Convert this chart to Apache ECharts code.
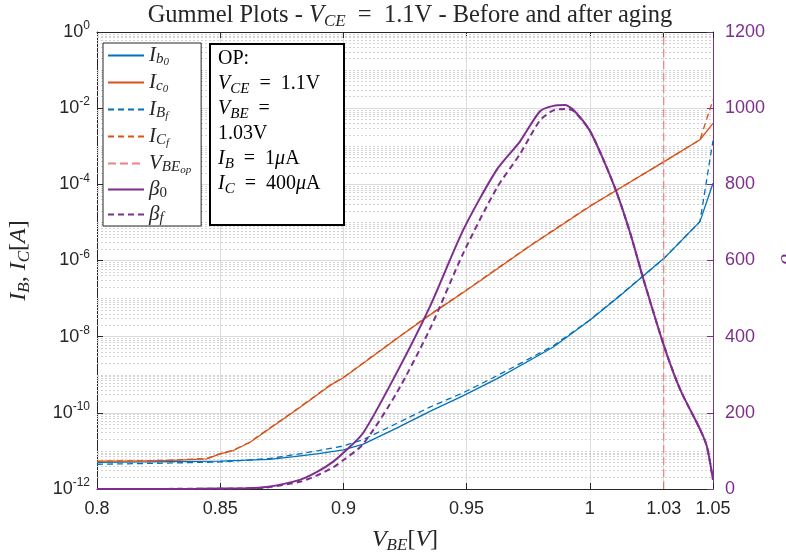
<!DOCTYPE html>
<html><head><meta charset="utf-8">
<script src="https://cdn.jsdelivr.net/npm/echarts@6/dist/echarts.min.js"></script>
<style>html,body{margin:0;padding:0;background:#fff}#c{width:786px;height:553px}</style>
</head><body><div id="c"></div>
<script>
// ---- data ----
const xTickValues = [0.8, 0.85, 0.9, 0.95, 1, 1.03, 1.05];
const leftTickExps = [-12, -10, -8, -6, -4, -2, 0];   // decades labelled 10^n
const rightTicks = [0, 200, 400, 600, 800, 1000, 1200];

// collector current: V_BE [V] and log10(I_C / A)
const vIc    = [0.8, 0.81, 0.82, 0.83, 0.8445, 0.85, 0.8553, 0.862, 0.8688, 0.8823, 0.8946, 0.9, 0.923, 0.934, 0.95, 0.9757, 1.0, 1.011, 1.03, 1.0447, 1.05];
const ic0Exp = [-11.27, -11.27, -11.26, -11.25, -11.21, -11.08, -10.99, -10.78, -10.47, -9.86, -9.28, -9.08, -7.99, -7.48, -6.78, -5.62, -4.58, -4.15, -3.41, -2.83, -2.40];
const icfExp = [-11.28, -11.26, -11.26, -11.24, -11.20, -11.07, -10.98, -10.77, -10.46, -9.85, -9.27, -9.07, -7.98, -7.47, -6.77, -5.61, -4.57, -4.15, -3.41, -2.83, -1.78];

// base current: V_BE [V] and log10(I_B / A)
const vIb    = [0.8, 0.82, 0.85, 0.87, 0.88, 0.89, 0.9, 0.9081, 0.9216, 0.9351, 0.9487, 0.9622, 0.9757, 0.9852, 1.0, 1.0125, 1.03, 1.0447, 1.05];
const ib0Exp = [-11.30, -11.29, -11.27, -11.22, -11.15, -11.07, -10.97, -10.82, -10.40, -9.96, -9.55, -9.11, -8.62, -8.27, -7.57, -6.91, -5.95, -4.98, -3.97];
const ibfExp = [-11.35, -11.33, -11.29, -11.20, -11.10, -10.99, -10.87, -10.70, -10.28, -9.85, -9.47, -9.03, -8.57, -8.24, -7.56, -6.90, -5.95, -4.98, -2.85];

// current gain beta
const vBeta = [0.8, 0.84, 0.86, 0.8688, 0.8823, 0.8891, 0.8959, 0.9, 0.908, 0.9216, 0.9351, 0.9487, 0.9622, 0.9717, 0.9798, 0.9852, 0.99, 0.9933, 0.9998, 1.0055, 1.011, 1.0164, 1.0218, 1.0302, 1.0367, 1.0448, 1.0475, 1.05];
const beta0 = [0, 0.5, 2, 5, 24, 44, 72, 95, 147, 305, 479, 681, 838, 913, 992, 1006, 1008, 996, 943, 865, 777, 672, 550, 374, 261, 156, 112, 24];
const betaf = [0, 0.5, 1.5, 4, 19, 35, 57, 76, 118, 252, 420, 620, 790, 880, 968, 994, 998, 993, 943, 865, 777, 672, 550, 374, 261, 156, 112, 24];

// operating point
const vbeOp = 1.03;
const EQ = '\u2002=\u2002';
const opText = [
  '{n|OP:}',
  '{i|V}{s|CE}{n|' + EQ + '1.1V}',
  '{i|V}{s|BE}{n|' + EQ + '}',
  '{n|1.03V}',
  '{i|I}{s|B}{n|' + EQ + '1}{i|μ}{n|A}',
  '{i|I}{s|C}{n|' + EQ + '400}{i|μ}{n|A}'
];

// ---- chart ----
const C_BLUE = '#0072BD', C_ORANGE = '#D95319', C_PURPLE = '#7E2F8E', C_RED = '#F08080', C_AX = '#262626';
const SERIF = 'Liberation Serif', SANS = 'Liberation Sans';
const pair = (xs, ys) => xs.map((x, i) => [x, ys[i]]);

// minor (dotted) grid positions of the log axis, in decades
const minorExps = [];
for (let n = -12; n < 0; n++) {
  for (let k = 1; k <= 9; k++) {
    if (k === 1 && n % 2 === 0) continue;
    minorExps.push(n + Math.log10(k));
  }
}

const serifRich = (size, color) => ({
  n: {fontFamily: SERIF, fontSize: size, color: color, lineHeight: size + 4, fontWeight: 'normal'},
  i: {fontFamily: SERIF, fontSize: size, fontStyle: 'italic', color: color, lineHeight: size + 4, fontWeight: 'normal'},
  s: {fontFamily: SERIF, fontSize: Math.round(size * 0.7), fontStyle: 'italic', color: color, fontWeight: 'normal',
      lineHeight: Math.round(size * 0.7), padding: [Math.round(size * 0.5), 0, 0, 0]}
});

const legendLabels = {
  Ib0: '{i|I}{s|b}{t|0}',
  Ic0: '{i|I}{s|c}{t|0}',
  IBf: '{i|I}{s|B}{t|f}',
  ICf: '{i|I}{s|C}{t|f}',
  VBEop: '{i|V}{s|BE}{t|op}',
  beta0: '{i|β}{u|0}',
  betaf: '{i|β}{s|f}'
};

const chart = echarts.init(document.getElementById('c'), null, {renderer: 'canvas'});
chart.setOption({
  animation: false,
  backgroundColor: '#fff',
  title: {
    text: '{n|Gummel Plots - }{i|V}{s|CE}{n|' + EQ + '1.1V - Before and after aging}',
    left: 405, top: -4, textAlign: 'center',
    textStyle: {fontWeight: 'normal', rich: serifRich(24.5, C_AX)}
  },
  grid: {left: 97, right: 73, top: 32, bottom: 64, containLabel: false, outerBoundsMode: 'none'},
  legend: {
    orient: 'vertical', left: 103, top: 43, z: 10,
    data: ['Ib0', 'Ic0', 'IBf', 'ICf', 'VBEop', 'beta0', 'betaf'],
    backgroundColor: '#fff', borderColor: C_AX, borderWidth: 1,
    padding: [0, 10, 0, 4], itemGap: 2, itemWidth: 36, itemHeight: 20,
    selectedMode: false,
    itemStyle: {opacity: 0},
    formatter: name => legendLabels[name],
    textStyle: {
      rich: {
        i: {fontFamily: SERIF, fontSize: 21, fontStyle: 'italic', color: C_AX, lineHeight: 20},
        s: {fontFamily: SERIF, fontSize: 15, fontStyle: 'italic', color: C_AX, lineHeight: 12, padding: [8, 0, 0, 0]},
        t: {fontFamily: SERIF, fontSize: 11, fontStyle: 'italic', color: C_AX, lineHeight: 6, padding: [14, 0, 0, 0]},
        u: {fontFamily: SERIF, fontSize: 15, color: C_AX, lineHeight: 12, padding: [8, 0, 0, 0]}
      }
    }
  },
  xAxis: [{
    type: 'value', min: 0.8, max: 1.05, interval: 0.05,
    name: '{i|V}{s|BE}{n|[}{i|V}{n|]}', nameLocation: 'middle', nameGap: 37,
    nameTextStyle: {rich: serifRich(24, C_AX)},
    axisLine: {show: true, onZero: false, lineStyle: {color: C_AX, width: 1}},
    axisTick: {show: true, inside: true, length: 6, customValues: xTickValues, lineStyle: {color: C_AX}},
    axisLabel: {customValues: xTickValues, fontFamily: SANS, fontSize: 18, color: C_AX, margin: 11,
      formatter: v => String(+v.toFixed(2))},
    splitLine: {show: true, lineStyle: {color: '#dcdcdc', width: 1}}
  }, {
    type: 'value', min: 0.8, max: 1.05, interval: 0.05, position: 'top',
    axisLine: {show: true, onZero: false, lineStyle: {color: C_AX, width: 1}},
    axisTick: {show: true, inside: true, length: 6, customValues: xTickValues, lineStyle: {color: C_AX}},
    axisLabel: {show: false}, splitLine: {show: false}
  }],
  yAxis: [{
    type: 'value', min: -12, max: 0, interval: 2,
    name: '{i|I}{s|B}{n|, }{i|I}{s|C}{n|[}{i|A}{n|]}', nameLocation: 'middle', nameGap: 64, nameRotate: 90,
    nameTextStyle: {rich: serifRich(24, C_AX)},
    axisLine: {show: true, onZero: false, lineStyle: {color: C_AX, width: 1}},
    axisTick: {show: true, inside: true, length: 6, customValues: leftTickExps, lineStyle: {color: C_AX}},
    axisLabel: {
      margin: 7, customValues: leftTickExps,
      formatter: v => '{b|10}{e|' + Math.round(v) + '}',
      rich: {
        b: {fontFamily: SANS, fontSize: 18, color: C_AX, lineHeight: 18},
        e: {fontFamily: SANS, fontSize: 12, color: C_AX, lineHeight: 10, padding: [0, 0, 12, 0]}
      }
    },
    splitLine: {show: true, lineStyle: {color: '#dcdcdc', width: 1}}
  }, {
    type: 'value', min: 0, max: 1200, interval: 200, position: 'right',
    name: 'β', nameLocation: 'middle', nameGap: 66, nameRotate: 90,
    nameTextStyle: {fontFamily: SERIF, fontStyle: 'italic', fontSize: 24, color: C_PURPLE},
    axisLine: {show: true, onZero: false, lineStyle: {color: C_PURPLE, width: 1}},
    axisTick: {show: true, inside: true, length: 6, lineStyle: {color: C_PURPLE}},
    axisLabel: {fontFamily: SANS, fontSize: 18, color: C_PURPLE, margin: 12,
      customValues: rightTicks, formatter: v => String(v)},
    splitLine: {show: false}
  }],
  series: [
    {
      name: 'minorGrid', type: 'line', data: [], yAxisIndex: 0, silent: true, z: 1,
      markLine: {
        silent: true, symbol: 'none', label: {show: false}, animation: false, z: 1,
        lineStyle: {color: '#d4d4d4', width: 1, type: [2, 2]},
        data: minorExps.map(v => ({yAxis: v}))
      }
    },
    {name: 'Ib0', type: 'line', symbol: 'none', yAxisIndex: 0, z: 3,
      lineStyle: {color: C_BLUE, width: 1.3}, itemStyle: {color: C_BLUE},
      data: pair(vIb, ib0Exp)},
    {name: 'Ic0', type: 'line', symbol: 'none', yAxisIndex: 0, z: 3,
      lineStyle: {color: C_ORANGE, width: 1.3}, itemStyle: {color: C_ORANGE},
      data: pair(vIc, ic0Exp)},
    {name: 'IBf', type: 'line', symbol: 'none', yAxisIndex: 0, z: 3,
      lineStyle: {color: C_BLUE, width: 1.3, type: [6, 4]}, itemStyle: {color: C_BLUE},
      data: pair(vIb, ibfExp)},
    {name: 'ICf', type: 'line', symbol: 'none', yAxisIndex: 0, z: 3,
      lineStyle: {color: C_ORANGE, width: 1.3, type: [6, 4]}, itemStyle: {color: C_ORANGE},
      data: pair(vIc, icfExp)},
    {name: 'VBEop', type: 'line', symbol: 'none', yAxisIndex: 0, z: 3,
      lineStyle: {color: C_RED, width: 1.2, type: [8, 4]}, itemStyle: {color: C_RED},
      data: [[vbeOp, -12], [vbeOp, 0]]},
    {name: 'beta0', type: 'line', symbol: 'none', yAxisIndex: 1, z: 4, smooth: 0.25,
      lineStyle: {color: C_PURPLE, width: 2}, itemStyle: {color: C_PURPLE},
      data: pair(vBeta, beta0)},
    {name: 'betaf', type: 'line', symbol: 'none', yAxisIndex: 1, z: 4, smooth: 0.25,
      lineStyle: {color: C_PURPLE, width: 2, type: [6, 4]}, itemStyle: {color: C_PURPLE},
      data: pair(vBeta, betaf)}
  ],
  graphic: [
    {type: 'rect', z: 20, shape: {x: 210, y: 44, width: 134, height: 181},
      style: {fill: '#fff', stroke: '#000', lineWidth: 2}},
    {type: 'text', z: 21, left: 218, top: 49,
      style: {
        text: opText.join('\n'),
        rich: {
          n: {fontFamily: SERIF, fontSize: 20, fill: '#000', lineHeight: 25},
          i: {fontFamily: SERIF, fontSize: 20, fontStyle: 'italic', fill: '#000', lineHeight: 25},
          s: {fontFamily: SERIF, fontSize: 15, fontStyle: 'italic', fill: '#000', lineHeight: 13, padding: [10, 0, 0, 0]}
        }
      }}
  ]
});
</script></body></html>
